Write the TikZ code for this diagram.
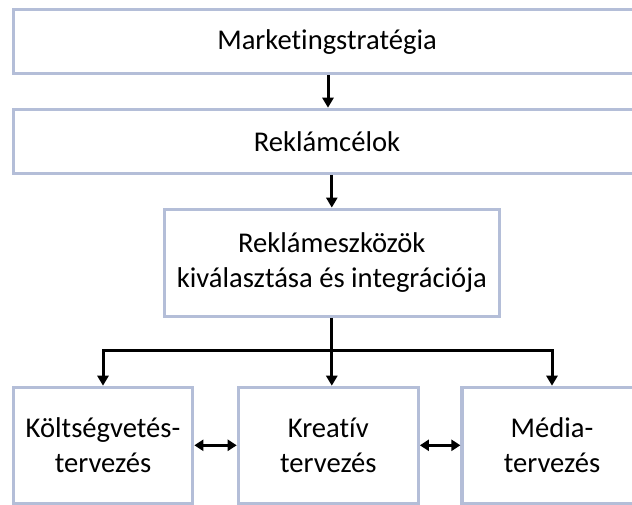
\documentclass[tikz,border=0pt]{standalone}
\usepackage{fontspec}
\setmainfont{Carlito}[Ligatures=NoCommon]
\usetikzlibrary{arrows.meta}
\definecolor{boxline}{RGB}{180,190,216}
\tikzset{
  stage/.style={draw=boxline, line width=3.2pt, fill=white, inner sep=0pt,
    align=center, font=\fontsize{28.6}{34.5}\selectfont},
  flow/.style={line width=3pt, -{Triangle[length=10pt,width=11pt]}},
  link/.style={line width=3pt, {Triangle[length=9pt,width=11pt]}-{Triangle[length=9pt,width=11pt]}},
  bus/.style={line width=3pt}
}
\begin{document}
\begin{tikzpicture}[x=1pt,y=-1pt]
  \useasboundingbox (0,0) rectangle (632,505);
  \clip (0,0) rectangle (632,505);
  \fill[white] (0,0) rectangle (632,505);

  % planning levels
  \node[stage, minimum width=627pt, minimum height=64pt] (strat) at (327,41.6) {Marketingstratégia};
  \node[stage, minimum width=627pt, minimum height=64pt] (goals) at (327,141.3) {Reklámcélok};
  \node[stage, minimum width=335pt, minimum height=107pt] (tools) at (331.8,262.7)
    {Reklámeszközök\\kiválasztása és integrációja};

  % parallel planning areas
  \node[stage, minimum width=179.5pt, minimum height=116pt] (budget) at (103,445.3)
    {Költségvetés-\\tervezés};
  \node[stage, minimum width=180pt, minimum height=116pt] (creative) at (328.3,445.3)
    {Kreatív\\tervezés};
  \node[stage, minimum width=180pt, minimum height=116pt] (media) at (552,445.3)
    {Média-\\tervezés};

  % top-down flow
  \draw[flow] (strat.south -| 328,0) -- (goals.north -| 328,0);
  \draw[flow] (goals.south -| tools.north) -- (tools.north);

  % distribution bus
  \coordinate (split) at (331.8,350.7);
  \draw[bus] (tools.south) -- (split);
  \draw[flow] (split) -| (budget.north);
  \draw[flow] (split) -| (media.north);
  \draw[flow] (split) -- (creative.north -| split);

  % coordination between areas
  \draw[link] (budget.east) -- (creative.west);
  \draw[link] (creative.east) -- (media.west);
\end{tikzpicture}
\end{document}
